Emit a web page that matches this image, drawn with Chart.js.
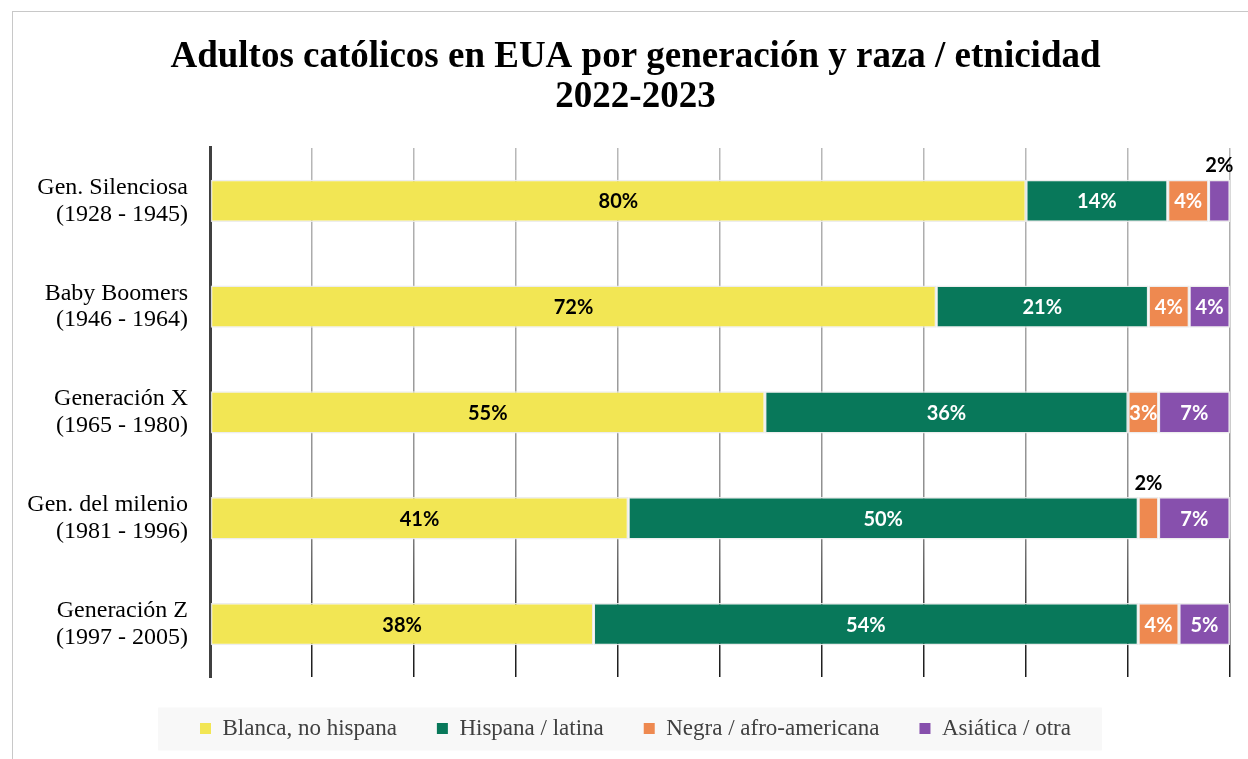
<!DOCTYPE html>
<html>
<head>
<meta charset="utf-8">
<script src="https://cdn.jsdelivr.net/npm/chart.js@4.4.1/dist/chart.umd.min.js"></script>
<style>
  html, body { margin:0; padding:0; background:#fff; overflow:hidden; width:1248px; height:759px; }
  #frame { position:absolute; left:12px; top:11px; width:1250px; height:760px;
           border-left:1px solid #c8c8c8; border-top:1px solid #c8c8c8; }
  #wrap { position:absolute; left:0; top:0; width:1245px; height:748px; }
</style>
</head>
<body>
<div id="frame"><div id="wrap"><canvas id="c"></canvas></div></div>
<script>
// ---- data ----
const categories = [
  ['Gen. Silenciosa', '(1928 - 1945)'],
  ['Baby Boomers', '(1946 - 1964)'],
  ['Generación X', '(1965 - 1980)'],
  ['Gen. del milenio', '(1981 - 1996)'],
  ['Generación Z', '(1997 - 2005)']
];
const seriesNames = ['Blanca, no hispana', 'Hispana / latina', 'Negra / afro-americana', 'Asiática / otra'];

// bar lengths (percent of row)
const blanca   = [80.0, 71.2, 54.4, 41.0, 37.6];
const hispana  = [13.9, 20.8, 35.6, 50.0, 53.4];
const negra    = [4.0, 4.0, 3.0, 2.0, 4.0];
const asiatica = [2.1, 4.0, 7.0, 7.0, 5.0];

// printed labels
const blancaText   = ['80%', '72%', '55%', '41%', '38%'];
const hispanaText  = ['14%', '21%', '36%', '50%', '54%'];
const negraText    = ['4%', '4%', '3%', '2%', '4%'];
const asiaticaText = ['2%', '4%', '7%', '7%', '5%'];

const colors = ['#F2E654', '#08785A', '#EE8950', '#8750AD'];
const labelColors = ['#000000', '#ffffff', '#ffffff', '#ffffff'];

const seriesValues = [blanca, hispana, negra, asiatica];
const seriesTexts = [blancaText, hispanaText, negraText, asiaticaText];

const serif = '"Liberation Serif", "Times New Roman", serif';

function gridColor(c) {
  const chart = c.chart;
  const area = chart.chartArea;
  if (!area) return 'rgba(0,0,0,0.4)';
  const g = chart.ctx.createLinearGradient(0, area.top, 0, area.bottom);
  g.addColorStop(0, 'rgba(0,0,0,0.28)');
  g.addColorStop(0.7, 'rgba(0,0,0,0.45)');
  g.addColorStop(0.9, 'rgba(0,0,0,0.8)');
  g.addColorStop(1, 'rgba(0,0,0,0.9)');
  return g;
}

const legendBg = {
  id: 'legendBg',
  beforeDraw(chart) {
    const lg = chart.legend;
    if (!lg || !lg.legendHitBoxes || !lg.legendHitBoxes.length) return;
    const hb = lg.legendHitBoxes;
    const first = hb[0], last = hb[hb.length - 1];
    const cy = first.top + first.height / 2;
    const ctx = chart.ctx;
    ctx.save();
    ctx.fillStyle = '#f8f8f8';
    ctx.fillRect(first.left - 42, cy - 21, (last.left + last.width + 31) - (first.left - 42), 43);
    ctx.restore();
  }
};

const segLabels = {
  id: 'segLabels',
  afterDraw(chart) {
    const ctx = chart.ctx;
    ctx.save();
    ctx.font = 'bold 20px Lato, "Open Sans", sans-serif';
    ctx.textAlign = 'center';
    ctx.textBaseline = 'middle';
    chart.data.datasets.forEach((ds, di) => {
      const meta = chart.getDatasetMeta(di);
      meta.data.forEach((bar, i) => {
        const p = bar.getProps(['x', 'y', 'base', 'height'], true);
        const w = Math.abs(p.x - p.base);
        const cx = (p.x + p.base) / 2;
        const txt = seriesTexts[di][i];
        if (w < 25) {
          ctx.fillStyle = '#000';
          ctx.fillText(txt, cx, p.y - p.height / 2 - 14);
        } else {
          ctx.fillStyle = labelColors[di];
          ctx.fillText(txt, cx, p.y + 1);
        }
      });
    });
    ctx.restore();
  }
};

new Chart(document.getElementById('c'), {
  type: 'bar',
  data: {
    labels: categories,
    datasets: seriesNames.map((name, i) => ({
      label: name,
      data: seriesValues[i],
      backgroundColor: colors[i],
      borderColor: 'rgba(235,235,235,0.9)',
      borderWidth: 1.5,
      borderSkipped: false,
      barPercentage: 0.4,
      categoryPercentage: 1.0
    }))
  },
  options: {
    indexAxis: 'y',
    responsive: true,
    maintainAspectRatio: false,
    animation: false,
    layout: { padding: { top: 2, right: 0, bottom: 10, left: 0 } },
    scales: {
      x: {
        stacked: true,
        min: 0, max: 100,
        z: 1,
        ticks: { display: false, stepSize: 10 },
        grid: { color: gridColor, lineWidth: 1.5, drawTicks: false },
        border: { display: false }
      },
      y: {
        stacked: true,
        z: 2,
        afterFit: (s) => { s.width = 197; },
        ticks: { color: '#000', padding: 22, font: { family: serif, size: 24, lineHeight: 1.12 } },
        grid: { display: false, drawTicks: false },
        border: { display: true, color: '#404040', width: 3 }
      },
      yRight: {
        type: 'category',
        position: 'right',
        afterFit: (s) => { s.width = 28; },
        ticks: { display: false },
        grid: { display: false, drawTicks: false },
        border: { display: false }
      }
    },
    plugins: {
      title: {
        display: true,
        text: ['Adultos católicos en EUA por generación y raza / etnicidad', '2022-2023'],
        color: '#000',
        font: { family: serif, size: 37, weight: 'bold', lineHeight: 1.08 },
        padding: { top: 23, bottom: 31 }
      },
      legend: {
        position: 'bottom',
        labels: {
          color: '#404040',
          font: { family: serif, size: 23 },
          boxWidth: 11,
          boxHeight: 11,
          padding: 40,
          generateLabels: (chart) => Chart.defaults.plugins.legend.labels.generateLabels(chart)
            .map(l => Object.assign(l, { lineWidth: 0, strokeStyle: 'transparent' }))
        }
      },
      tooltip: { enabled: false }
    }
  },
  plugins: [legendBg, segLabels]
});
</script>
</body>
</html>
